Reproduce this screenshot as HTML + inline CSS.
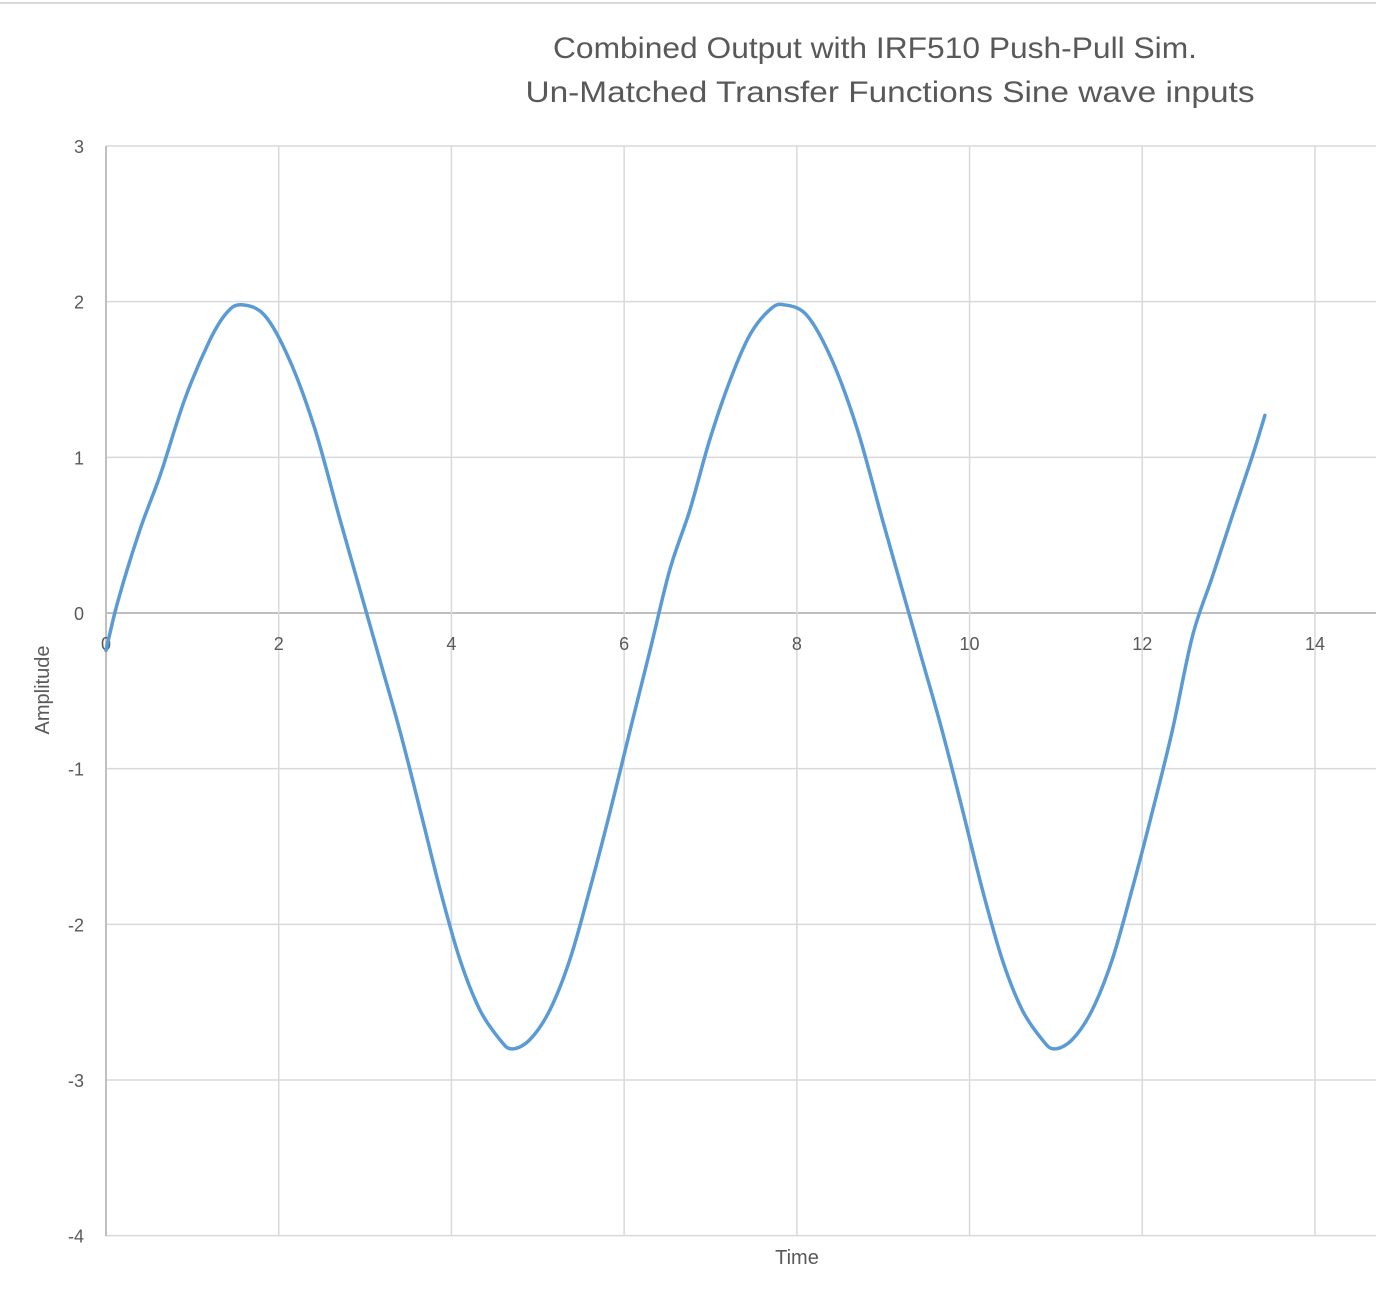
<!DOCTYPE html>
<html><head><meta charset="utf-8"><style>
html,body{margin:0;padding:0;background:#fff;}
svg{display:block;font-family:"Liberation Sans",sans-serif;}
</style></head><body>
<svg id="chart" width="1376" height="1302">
<line x1="0" y1="3" x2="1376" y2="3" stroke="#d9d9d9" stroke-width="2"/>
<text x="875" y="58" text-anchor="middle" font-size="30" fill="#595959" textLength="644" lengthAdjust="spacingAndGlyphs">Combined Output with IRF510 Push-Pull Sim.</text>
<text x="890" y="102" text-anchor="middle" font-size="30" fill="#595959" textLength="729" lengthAdjust="spacingAndGlyphs">Un-Matched Transfer Functions Sine wave inputs</text>
<g id="grid"></g><g id="ticks"></g>
<text x="797" y="1264" text-anchor="middle" font-size="20" fill="#595959">Time</text>
<text transform="translate(49,690) rotate(-90)" text-anchor="middle" font-size="20" fill="#595959">Amplitude</text>
<g id="series"></g>
</svg>
<script>
const xTicks=[0,2,4,6,8,10,12,14];
const yTicks=[3,2,1,0,-1,-2,-3,-4];
const tVals=[0,0.14,0.39,0.63,0.91,1.2,1.4,1.57,1.84,2.13,2.42,2.71,2.94,3.17,3.4,3.64,3.87,4.1,4.33,4.56,4.7,4.91,5.14,5.37,5.6,5.84,6.07,6.3,6.53,6.76,6.99,7.23,7.46,7.69,7.85,8.12,8.41,8.7,8.99,9.22,9.45,9.68,9.92,10.15,10.38,10.61,10.84,10.98,11.19,11.42,11.65,11.88,12.12,12.35,12.58,12.81,13.04,13.27,13.42];
const amplitude=[-0.24,0.08,0.53,0.89,1.37,1.75,1.93,1.98,1.91,1.62,1.18,0.6,0.15,-0.3,-0.75,-1.27,-1.78,-2.23,-2.55,-2.74,-2.8,-2.74,-2.55,-2.23,-1.78,-1.27,-0.75,-0.24,0.28,0.66,1.11,1.5,1.79,1.95,1.98,1.91,1.62,1.18,0.6,0.15,-0.3,-0.75,-1.27,-1.78,-2.23,-2.55,-2.74,-2.8,-2.74,-2.55,-2.23,-1.78,-1.27,-0.75,-0.15,0.23,0.62,1.0,1.27];
const NS="http://www.w3.org/2000/svg";
const X=v=>106+v*(1315-106)/14;
const Y=v=>613-v*(613-146)/3;
function mk(tag,attrs,parent,txt){const e=document.createElementNS(NS,tag);for(const k in attrs)e.setAttribute(k,attrs[k]);if(txt!==undefined)e.textContent=txt;parent.appendChild(e);return e;}
const grid=document.getElementById('grid'),ticks=document.getElementById('ticks'),series=document.getElementById('series');
yTicks.forEach(v=>{
  const l=mk('line',{x1:106,x2:1376,y1:Y(v),y2:Y(v),stroke:v===0?'#bfbfbf':'#d9d9d9','stroke-width':v===0?2:1.5},grid);
  
  
  const t=mk('text',{x:84,y:Y(v)+7,'text-anchor':'end','font-size':18,fill:'#595959'},ticks,String(v));
  
  
});
xTicks.forEach(v=>{
  const l=mk('line',{x1:X(v),x2:X(v),y1:146,y2:1236,stroke:v===0?'#bfbfbf':'#d9d9d9','stroke-width':v===0?2:1.5},grid);
  
  
  const t=mk('text',{x:X(v),y:650,'text-anchor':'middle','font-size':18,fill:'#595959'},ticks,String(v));
  
  
});
const P=tVals.map((t,i)=>[X(t),Y(amplitude[i])]);
let d='M'+P[0][0].toFixed(1)+','+P[0][1].toFixed(1);
for(let i=0;i<P.length-1;i++){
  const p0=P[Math.max(i-1,0)],p1=P[i],p2=P[i+1],p3=P[Math.min(i+2,P.length-1)];
  const c1=[p1[0]+(p2[0]-p0[0])/6,p1[1]+(p2[1]-p0[1])/6];
  const c2=[p2[0]-(p3[0]-p1[0])/6,p2[1]-(p3[1]-p1[1])/6];
  d+=' C'+c1.map(n=>n.toFixed(1)).join(',')+' '+c2.map(n=>n.toFixed(1)).join(',')+' '+p2.map(n=>n.toFixed(1)).join(',');
}
const line=mk('path',{d:d,fill:'none',stroke:'#5B9BD5','stroke-width':3.5,'stroke-linejoin':'round','stroke-linecap':'round'},series);


</script>
</body></html>
